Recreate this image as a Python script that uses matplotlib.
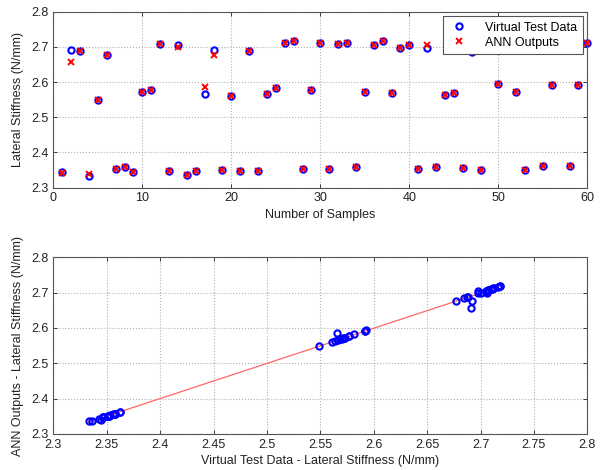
import numpy as np
import matplotlib
matplotlib.use("Agg")
import matplotlib.pyplot as plt
from matplotlib.ticker import FormatStrFormatter

plt.rcParams['font.family'] = ['Liberation Sans', 'DejaVu Sans']

samples = list(range(1, 61))
virtual_test = [2.345, 2.691, 2.688, 2.333, 2.549, 2.677, 2.353, 2.358, 2.343, 2.572,
                2.577, 2.707, 2.347, 2.706, 2.336, 2.347, 2.566, 2.692, 2.351, 2.561,
                2.347, 2.687, 2.347, 2.567, 2.582, 2.711, 2.718, 2.352, 2.577, 2.710,
                2.352, 2.707, 2.711, 2.358, 2.573, 2.706, 2.718, 2.568, 2.698, 2.706,
                2.352, 2.698, 2.358, 2.564, 2.570, 2.356, 2.685, 2.351, 2.705, 2.593,
                2.713, 2.571, 2.351, 2.700, 2.362, 2.592, 2.716, 2.362, 2.592, 2.712]
ann_outputs = [2.340, 2.657, 2.688, 2.338, 2.549, 2.677, 2.353, 2.358, 2.343, 2.572,
               2.577, 2.707, 2.347, 2.700, 2.336, 2.347, 2.587, 2.676, 2.351, 2.561,
               2.347, 2.687, 2.347, 2.567, 2.582, 2.711, 2.718, 2.352, 2.577, 2.710,
               2.352, 2.707, 2.711, 2.358, 2.573, 2.706, 2.718, 2.568, 2.698, 2.706,
               2.352, 2.704, 2.358, 2.564, 2.570, 2.356, 2.685, 2.351, 2.705, 2.593,
               2.713, 2.571, 2.351, 2.700, 2.362, 2.592, 2.716, 2.362, 2.592, 2.712]

x_ticks_top = [0, 10, 20, 30, 40, 50, 60]
y_ticks = [2.3, 2.4, 2.5, 2.6, 2.7, 2.8]
x_ticks_bottom = [2.3, 2.35, 2.4, 2.45, 2.5, 2.55, 2.6, 2.65, 2.7, 2.75, 2.8]

fig = plt.figure(figsize=(6.07, 4.70), dpi=100)
ax1 = fig.add_axes([53.3/607, 1-187.5/470, (587.3-53.3)/607, (187.5-11.7)/470])
ax2 = fig.add_axes([53.3/607, 1-434/470, (587.3-53.3)/607, (434-257.3)/470])

fs = 9
txt_c = '#222222'
spine_c = '#555555'
for ax in (ax1, ax2):
    ax.grid(True, linestyle=':', color='#b0b0b0', linewidth=0.8)
    ax.set_axisbelow(True)
    ax.tick_params(direction='in', length=3, width=0.6, top=True, right=True,
                   labelsize=fs, colors=txt_c, pad=3.5)
    for s in ax.spines.values():
        s.set_color(spine_c)
        s.set_linewidth(0.8)

ax1.plot(samples, virtual_test, 'o', mfc='none', mec='#0000ff', mew=1.5, ms=4.5,
         linestyle='none', label='Virtual Test Data', clip_on=False)
ax1.plot(samples, ann_outputs, 'x', color='#ff0000', mew=1.4, ms=4.2,
         linestyle='none', label='ANN Outputs', clip_on=False)
ax1.set_xlim(0, 60)
ax1.set_ylim(2.3, 2.8)
ax1.set_xticks(x_ticks_top)
ax1.set_yticks(y_ticks)
ax1.yaxis.set_major_formatter(FormatStrFormatter('%g'))
ax1.set_xlabel('Number of Samples', fontsize=fs, color=txt_c, labelpad=3)
ax1.set_ylabel('Lateral Stiffness (N/mm)', fontsize=fs, color=txt_c, labelpad=5)
leg = ax1.legend(loc='upper right', fontsize=fs, frameon=True, fancybox=False,
                 framealpha=1, edgecolor=spine_c, borderaxespad=0.35,
                 handlelength=1.6, handletextpad=1.3, borderpad=0.45,
                 labelspacing=0.25)
leg.get_frame().set_linewidth(0.8)
leg.set_zorder(10)

vx = np.array(virtual_test)
ay = np.array(ann_outputs)
coef = np.polyfit(vx, ay, 1)
xl = np.array([vx.min(), vx.max()])
ax2.plot(xl, np.polyval(coef, xl), '-', color='#ff6666', linewidth=0.9)
ax2.plot(vx, ay, 'o', mfc='none', mec='#0000ff', mew=1.5, ms=4.5, linestyle='none')
ax2.set_xlim(2.3, 2.8)
ax2.set_ylim(2.3, 2.8)
ax2.set_xticks(x_ticks_bottom)
ax2.set_yticks(y_ticks)
ax2.xaxis.set_major_formatter(FormatStrFormatter('%g'))
ax2.yaxis.set_major_formatter(FormatStrFormatter('%g'))
ax2.set_xlabel('Virtual Test Data - Lateral Stiffness (N/mm)', fontsize=fs,
               color=txt_c, labelpad=3)
ax2.set_ylabel('ANN Outputs - Lateral Stiffness (N/mm)', fontsize=fs,
               color=txt_c, labelpad=5)

fig.savefig('out.png', dpi=100)
